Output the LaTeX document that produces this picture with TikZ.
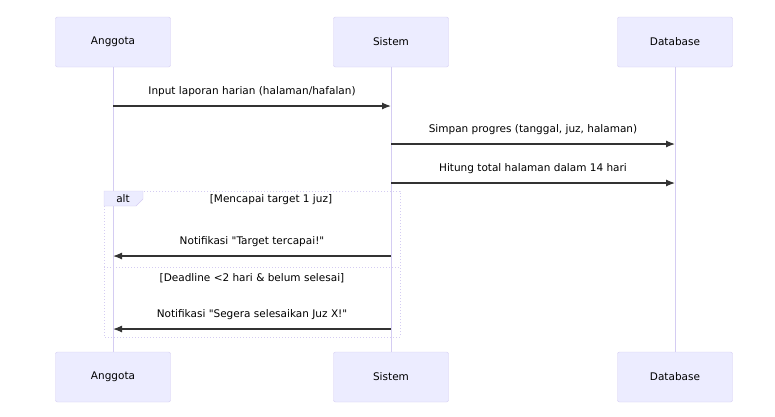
\documentclass[tikz,border=0pt]{standalone}
\usepackage{fontspec}
\setmainfont{DejaVu Sans}
\usetikzlibrary{arrows.meta}
\definecolor{actorfill}{HTML}{ECECFF}
\definecolor{actorline}{HTML}{D4CCF2}
\definecolor{msgline}{HTML}{333333}
\begin{document}
\begin{tikzpicture}[x=1pt,y=-1pt,>={Latex[length=9pt,width=7pt]},font=\fontsize{10.5}{12}\selectfont,
	actor/.style={rectangle,rounded corners=2pt,fill=actorfill,draw=actorline,minimum width=115pt,minimum height=50pt},
	life/.style={draw=actorline,line width=1pt},
	msg/.style={->,draw=msgline,line width=1.2pt},
	label/.style={font=\fontsize{10.5}{12}\selectfont,text=black}]
	\useasboundingbox (0,0) rectangle (775,416);

	\node[actor] (anggota) at (113,42) {Anggota};
	\node[actor] (sistem) at (391,42) {Sistem};
	\node[actor] (database) at (675,42) {Database};
	\node[actor] (anggota2) at (113,377) {Anggota};
	\node[actor] (sistem2) at (391,377) {Sistem};
	\node[actor] (database2) at (675,377) {Database};

	\path
		(anggota) edge[life] (anggota2)
		(sistem) edge[life] (sistem2)
		(database) edge[life] (database2);

	% alt frame
	\draw[actorline,dotted,line width=1pt] (104,191) rectangle (400,337);
	\draw[actorline,dotted,line width=1pt] (104,267) -- (400,267);
	\filldraw[fill=actorfill,draw=actorline] (104,191) -- (143,191) -- (143,199) -- (136,206) -- (104,206) -- cycle;
	\node[label] (alt) at (123,199) {alt};
	\node[label] (guard1) at (271,200) {[Mencapai target 1 juz]};
	\node[label] (guard2) at (252,278) {[Deadline <2 hari \& belum selesai]};

	% messages
	\path[every node/.style={label,above=5pt}]
		(anggota |- 0,106) edge[msg] node (m1) {Input laporan harian (halaman/hafalan)} (sistem |- 0,106)
		(sistem |- 0,144) edge[msg] node (m2) {Simpan progres (tanggal, juz, halaman)} (database |- 0,144)
		(sistem |- 0,183) edge[msg] node (m3) {Hitung total halaman dalam 14 hari} (database |- 0,183)
		(sistem |- 0,256) edge[msg] node (m4) {Notifikasi \textquotedbl Target tercapai!\textquotedbl} (anggota |- 0,256)
		(sistem |- 0,329) edge[msg] node (m5) {Notifikasi \textquotedbl Segera selesaikan Juz X!\textquotedbl} (anggota |- 0,329);
\end{tikzpicture}
\end{document}
